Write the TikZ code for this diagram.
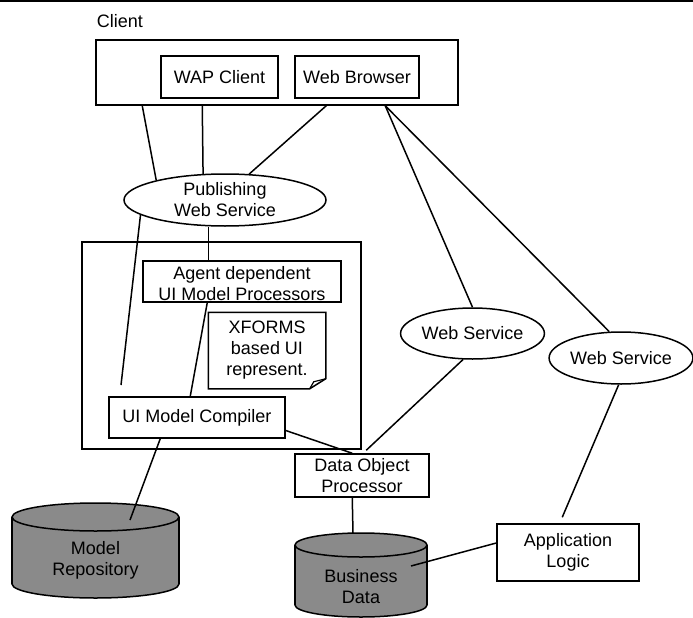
\documentclass[tikz,border=0pt]{standalone}
\usepackage{fontspec}
\setmainfont{Liberation Sans}
\usetikzlibrary{shapes.geometric,calc}
\definecolor{dbgray}{RGB}{138,138,138}
\begin{document}
\begin{tikzpicture}[x=1pt,y=-1pt, line width=1.5pt,
  every node/.style={font=\fontsize{18}{21}\selectfont, inner sep=0pt},
  box/.style={draw, rectangle, align=center},
  oval/.style={draw, ellipse, align=center}]
\useasboundingbox (0,0) rectangle (693,618);
\draw[line width=1.6pt] (0,0.8) -- (693,0.8);

% client
\node (clientlabel) at (120,21) {Client};
\node[box, minimum width=362pt, minimum height=65pt] (clientbox) at (277,72.5) {};
\node[box, minimum width=117pt, minimum height=42pt] (wap) at (219.5,77) {WAP Client};
\node[box, minimum width=124pt, minimum height=42pt] (browser) at (357,77) {Web Browser};

\node[oval, minimum width=202pt, minimum height=52pt] (pws) at (225,200) {Publishing\\Web Service};

% server box
\node[box, minimum width=279pt, minimum height=207pt] (bigbox) at (221.5,345.5) {};
\node[box, minimum width=198pt, minimum height=41pt] (agent) at (242,281.5) {};
\node[align=center] (agenttext) at (242,284) {Agent dependent\\UI Model Processors};
\node[align=center, minimum width=116pt, minimum height=75pt] (note) at (267,350.5) {XFORMS\\based UI\\represent.};
\draw (note.north west) -- (note.north east) -- ([yshift=10pt]note.south east)
  -- ([xshift=-16pt]note.south east) -- (note.south west) -- cycle;
\draw[line width=1.2pt] ([xshift=-16pt]note.south east) -- ([xshift=-12pt,yshift=7pt]note.south east) -- ([yshift=10pt]note.south east);
\node[box, minimum width=176pt, minimum height=41pt] (compiler) at (197,417.5) {UI Model Compiler};

\node[box, minimum width=134pt, minimum height=43pt] (dop) at (362,475.5) {Data Object\\Processor};
\node[oval, minimum width=135pt, minimum height=51pt] (ws1) at (472.5,333.5) {Web Service};
\node[oval, minimum width=138pt, minimum height=52pt] (ws2) at (621,358) {Web Service};
\node[box, minimum width=142pt, minimum height=57pt] (applogic) at (568,552.5) {Application\\Logic};

% Business Data cylinder
\fill[dbgray] (295,545) rectangle (427,605);
\draw[fill=dbgray] (361,605) ellipse (66pt and 12pt);
\fill[dbgray] (295,545) rectangle (427,605);
\draw (295,545) -- (295,605) (427,545) -- (427,605);
\draw[fill=dbgray] (361,545) ellipse (66pt and 12pt);
\node[align=center] (bdlabel) at (361,587) {Business\\Data};

% Model Repository cylinder
\fill[dbgray] (12,517) rectangle (179,584);
\draw[fill=dbgray] (95.5,584) ellipse (83.5pt and 14pt);
\fill[dbgray] (12,517) rectangle (179,584);
\draw (12,517) -- (12,584) (179,517) -- (179,584);
\draw[fill=dbgray] (95.5,517) ellipse (83.5pt and 14pt);
\node[align=center] (mrlabel) at (95.5,560) {Model\\Repository};

% connectors
\coordinate (freeend) at (121,385);
\coordinate (bdtop) at (353,533);
\coordinate (bdin) at (411,566);
\coordinate (mrin) at (130,520);
\coordinate (agtop) at ([xshift=66pt]agent.north west);

\draw ([xshift=47pt]clientbox.south west) -- (pws.164);
\draw ([xshift=107pt]clientbox.south west) -- (pws.130);
\draw ([xshift=231pt]clientbox.south west) -- (pws.47);
\draw ([xshift=290pt]clientbox.south west) -- (ws1.north);
\draw ([xshift=290pt]clientbox.south west) -- (ws2.114);
\draw (agtop) -- (agtop |- pws.south);
\draw (pws.190) -- (freeend);
\draw ([xshift=65pt]agent.south west) -- ([xshift=82pt]compiler.north west);
\draw ([yshift=-13pt]compiler.east) -- ([xshift=58pt]dop.north west);
\draw (ws1.250) -- ([xshift=72pt,yshift=3pt]dop.north west);
\draw (ws2.265) -- ([xshift=66pt,yshift=6pt]applogic.north west);
\draw ([xshift=58pt]dop.south west) -- (bdtop);
\draw ([yshift=9.5pt]applogic.west) -- (bdin);
\draw ([xshift=52pt]compiler.south west) -- (mrin);
\end{tikzpicture}
\end{document}
